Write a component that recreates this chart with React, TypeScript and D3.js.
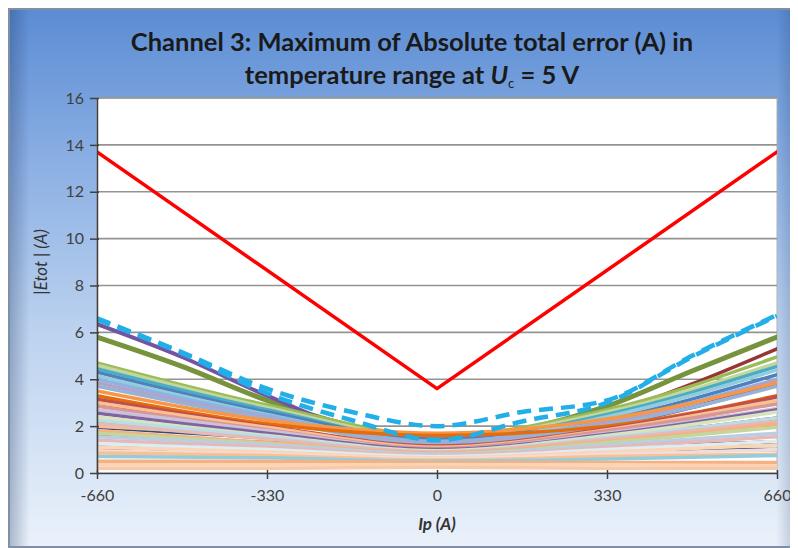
import React, { useEffect, useRef } from 'react';
import * as d3 from 'd3';

// x positions (Ip, A)
const ipFine = [-660, -495, -330, -165, 0, 165, 330, 495, 660];
const ipCoarse = [-660, -330, 0, 330, 660];
const ipLimit = [-660, 0, 660];

const xTicks = [-660, -330, 0, 330, 660];
const yTicks = [0, 2, 4, 6, 8, 10, 12, 14, 16];

// highlighted series
const limitLine = [13.7, 3.6, 13.7];
const dashedUpper = [6.6, 5.15, 3.6, 2.6, 2.0, 2.6, 3.1, 5.0, 6.75];
const dashedLower = [6.55, 5.1, 3.4, 2.25, 1.4, 2.2, 3.0, 4.95, 6.7];
const purpleLine = [6.35, 4.95, 3.3, 1.95, 1.6, 1.5, 2.0, 2.8, 3.8];
const oliveLine = [5.8, 4.55, 3.1, 2.0, 1.3, 1.85, 2.85, 4.35, 5.8];
const darkRedLine = [3.0, 2.3, 1.6, 1.2, 1.1, 1.5, 2.5, 3.8, 5.3];

// the many channel curves in the band (values at ipCoarse), back to front
const bandValues = [
  [1.0, 0.95, 0.8, 1.1, 1.33],
  [1.95, 1.5, 1.1, 1.0, 1.0],
  [1.6, 1.3, 1.0, 1.5, 2.35],
  [1.2, 1.1, 0.9, 1.6, 3.25],
  [2.0, 1.6, 1.2, 1.7, 2.13],
  [2.2, 1.7, 1.25, 1.8, 2.7],
  [4.7, 2.9, 1.6, 2.7, 4.95],
  [4.6, 2.8, 1.5, 2.6, 4.7],
  [4.45, 2.7, 1.4, 2.5, 4.55],
  [4.3, 2.6, 1.45, 2.3, 4.2],
  [4.15, 2.5, 1.3, 2.4, 4.4],
  [4.0, 2.45, 1.35, 2.2, 4.0],
  [3.85, 2.35, 1.25, 2.15, 3.95],
  [3.7, 2.3, 1.2, 2.05, 3.7],
  [3.5, 2.25, 1.7, 2.3, 3.85],
  [3.3, 2.1, 1.6, 2.0, 3.3],
  [3.15, 2.0, 1.15, 1.9, 3.25],
  [3.0, 1.95, 1.1, 1.85, 3.1],
  [2.85, 1.85, 1.05, 1.8, 2.95],
  [2.7, 1.8, 1.0, 1.7, 2.75],
  [2.55, 1.7, 1.0, 1.65, 2.7],
  [2.4, 1.6, 0.95, 1.6, 2.6],
  [2.25, 1.55, 0.9, 1.5, 2.35],
  [2.1, 1.45, 0.9, 1.45, 2.2],
  [1.8, 1.3, 0.85, 1.35, 2.1],
  [1.7, 1.25, 0.8, 1.3, 1.95],
  [1.55, 1.2, 0.8, 1.2, 1.7],
  [1.4, 1.1, 0.75, 1.1, 1.55],
  [1.25, 1.0, 0.7, 1.0, 1.35],
  [1.1, 0.9, 0.65, 0.9, 1.2],
  [0.95, 0.8, 0.6, 0.8, 1.0],
  [0.85, 0.75, 0.55, 0.7, 0.8],
  [0.7, 0.65, 0.5, 0.6, 0.75],
  [0.5, 0.5, 0.45, 0.45, 0.45],
  [0.35, 0.35, 0.35, 0.35, 0.3],
  [0.2, 0.2, 0.25, 0.2, 0.2],
];

const bandColors = [
  '#632523', '#2c4d75', '#984807', '#4f81bd', '#fac090', '#9bbb59',
  '#9bbb59', '#c3d69b', '#4bacc6', '#4f81bd', '#93cddd', '#8db3e2',
  '#b3a2c7', '#95b3d7', '#f79646', '#e46c0a', '#c0504d', '#fac090',
  '#d99694', '#ccc1da', '#8064a2', '#d7e4bd', '#b7dee8', '#e6b9b8',
  '#f4b183', '#c3d69b', '#b9cde5', '#e6b9b8', '#dbeef4',
  '#fcd5b5', '#f2dcdb', '#fac090', '#93cddd', '#f4b183', '#fbd4b4',
  '#f9c8a8',
];

const W = 790;
const H = 540;
const plot = { left: 89, right: 769, top: 90, bottom: 465 };
const FONT = "Lato, 'Open Sans', sans-serif";

const App: React.FC = () => {
  const xAxisRef = useRef<SVGGElement | null>(null);
  const yAxisRef = useRef<SVGGElement | null>(null);

  const x = d3.scaleLinear().domain([-660, 660]).range([plot.left, plot.right]);
  const y = d3.scaleLinear().domain([0, 16]).range([plot.bottom, plot.top]);

  const smooth = (xs: number[], ys: number[]) =>
    d3
      .line<number>()
      .x((_, i) => x(xs[i]))
      .y(d => y(d))
      .curve(d3.curveMonotoneX)(ys) as string;

  const straight = d3
    .line<number>()
    .x((_, i) => x(ipLimit[i]))
    .y(d => y(d))(limitLine) as string;

  useEffect(() => {
    const gx = d3.select(xAxisRef.current);
    gx.selectAll('*').remove();
    gx.call(d3.axisBottom(x).tickValues(xTicks).tickSize(6).tickSizeOuter(0).tickFormat(d => String(d)));
    gx.select('.domain').attr('stroke', '#404040').attr('stroke-width', 1.5);
    gx.selectAll('.tick line').attr('stroke', '#404040').attr('stroke-width', 1.5).attr('y1', -3);
    gx.selectAll('.tick text')
      .attr('font-family', FONT)
      .attr('font-size', 16)
      .attr('fill', '#404040')
      .attr('dy', '1.2em');

    const gy = d3.select(yAxisRef.current);
    gy.selectAll('*').remove();
    gy.call(d3.axisLeft(y).tickValues(yTicks).tickSize(7).tickSizeOuter(0));
    gy.select('.domain').attr('stroke', '#404040').attr('stroke-width', 1.5);
    gy.selectAll('.tick line').attr('stroke', '#404040').attr('stroke-width', 1.5).attr('x1', 2);
    gy.selectAll('.tick text')
      .attr('font-family', FONT)
      .attr('font-size', 16)
      .attr('fill', '#404040')
      .attr('x', -13);
  }, []);

  return (
    <svg width={W} height={H} style={{ display: 'block' }}>
      <defs>
        <linearGradient id="bg" x1="0" y1="0" x2="0" y2="1">
          <stop offset="0" stopColor="#5b8cd3" />
          <stop offset="0.3" stopColor="#8db1e4" />
          <stop offset="0.6" stopColor="#bcd2ef" />
          <stop offset="1" stopColor="#eaf1fa" />
        </linearGradient>
        <linearGradient id="edge" x1="0" y1="0" x2="1" y2="0">
          <stop offset="0" stopColor="#1e3560" stopOpacity="0.3" />
          <stop offset="0.025" stopColor="#1e3560" stopOpacity="0" />
          <stop offset="0.975" stopColor="#1e3560" stopOpacity="0" />
          <stop offset="1" stopColor="#1e3560" stopOpacity="0.25" />
        </linearGradient>
        <clipPath id="plotClip">
          <rect x={plot.left} y={plot.top} width={plot.right - plot.left} height={plot.bottom - plot.top} />
        </clipPath>
      </defs>

      <rect x={1} y={1} width={W - 2} height={H - 2} fill="url(#bg)" stroke="#7f8fa6" strokeWidth={2} />
      <rect x={2} y={2} width={W - 4} height={H - 4} fill="url(#edge)" />

      <text x={404} y={43} textAnchor="middle" fontFamily={FONT} fontWeight="bold" fontSize={25.5} fill="#1a1a1a">
        Channel 3: Maximum of Absolute total error (A) in
      </text>
      <text x={404} y={76} textAnchor="middle" fontFamily={FONT} fontWeight="bold" fontSize={25.5} fill="#1a1a1a">
        temperature range at <tspan fontStyle="italic">U</tspan>
        <tspan fontSize={13} fontWeight="normal" dy={4}>c</tspan>
        <tspan dy={-4}> = 5 V</tspan>
      </text>

      <rect
        x={plot.left}
        y={plot.top}
        width={plot.right - plot.left}
        height={plot.bottom - plot.top}
        fill="#ffffff"
        stroke="#b0b0b0"
        strokeWidth={1}
      />

      {yTicks.slice(1).map(t => (
        <line key={t} x1={plot.left} x2={plot.right} y1={y(t)} y2={y(t)} stroke="#939393" strokeWidth={1.6} />
      ))}

      <g clipPath="url(#plotClip)" fill="none" strokeLinecap="round" strokeLinejoin="round">
        <path d={smooth(ipFine, darkRedLine)} stroke="#953735" strokeWidth={3.5} />
        <path d={smooth(ipFine, oliveLine)} stroke="#77933c" strokeWidth={5} />
        <path d={smooth(ipFine, purpleLine)} stroke="#7453a0" strokeWidth={4} />
        {bandValues.map((vals, i) => (
          <path key={i} d={smooth(ipCoarse, vals)} stroke={bandColors[i]} strokeWidth={3.5} />
        ))}
        <path d={smooth(ipFine, dashedLower)} stroke="#22aee6" strokeWidth={4.5} strokeDasharray="14 8" strokeLinecap="butt" />
        <path d={smooth(ipFine, dashedUpper)} stroke="#22aee6" strokeWidth={4.5} strokeDasharray="14 8" strokeLinecap="butt" />
        <path d={straight} stroke="#ff0000" strokeWidth={3.5} />
      </g>

      <g ref={xAxisRef} transform={`translate(0,${plot.bottom})`} />
      <g ref={yAxisRef} transform={`translate(${plot.left},0)`} />

      <text
        transform={`translate(39,254) rotate(-90)`}
        textAnchor="middle"
        fontFamily={FONT}
        fontStyle="italic"
        fontSize={17}
        fill="#333333"
      >
        |Etot | (A)
      </text>
      <text x={429} y={522} textAnchor="middle" fontFamily={FONT} fontStyle="italic" fontWeight="bold" fontSize={17} fill="#333333">
        Ip (A)
      </text>
    </svg>
  );
};

export default App;
